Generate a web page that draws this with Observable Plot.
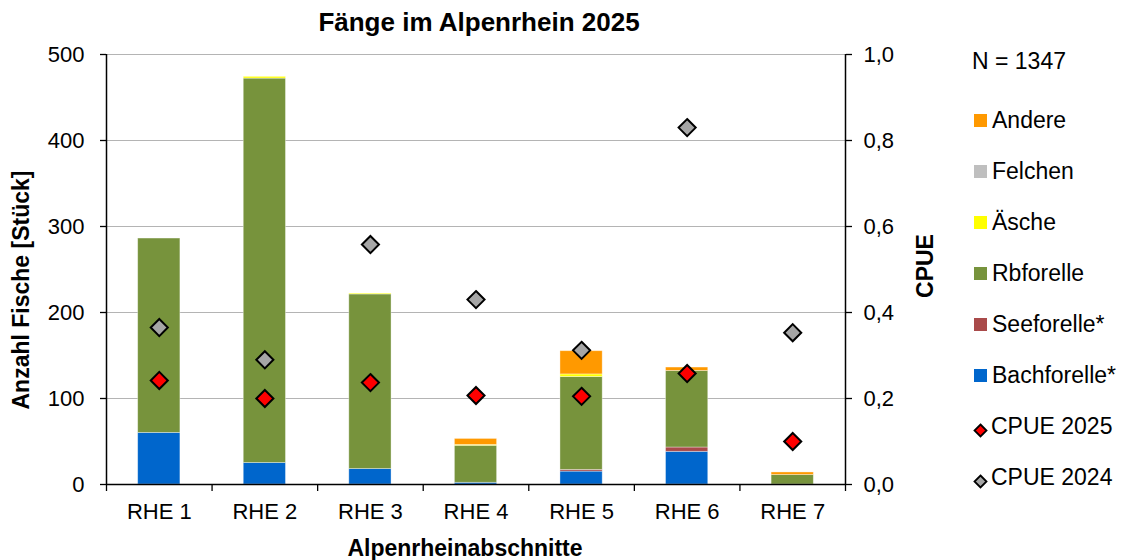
<!DOCTYPE html>
<html><head><meta charset="utf-8">
<script src="https://cdn.jsdelivr.net/npm/d3@7"></script>
<script src="https://cdn.jsdelivr.net/npm/@observablehq/plot@0.6"></script>
<style>
body{margin:0;background:#fff;font-family:"Liberation Sans",Arial,sans-serif;}
#wrap{position:relative;width:1122px;height:560px;overflow:hidden;background:#fff}
.ov{position:absolute;line-height:1;white-space:nowrap;color:#000}
.lg-row{position:absolute;left:974px;height:20px;display:flex;align-items:center;font-size:23px;line-height:1}
.lg-sw{width:13px;height:13px;margin-right:5px;flex:none}
</style></head><body>
<div id="wrap">
  <div class="ov" style="left:0;width:958px;text-align:center;top:9px;font-size:26px;font-weight:bold">Fänge im Alpenrhein 2025</div>
  <div id="chart" style="position:absolute;left:0;top:40px"></div>
  <div class="ov" style="left:465px;top:537px;transform:translateX(-50%);font-size:23px;font-weight:bold">Alpenrheinabschnitte</div>
  <div class="ov" style="left:21px;top:290px;transform:translate(-50%,-50%) rotate(-90deg);font-size:23px;font-weight:bold">Anzahl Fische [Stück]</div>
  <div class="ov" style="left:925px;top:266px;transform:translate(-50%,-50%) rotate(-90deg);font-size:23px;font-weight:bold">CPUE</div>
  <div class="ov" style="left:972px;top:50px;font-size:23px">N = 1347</div>
  <div id="legend"></div>
</div>
<script>
// ---- data ----
const categories = ["RHE 1", "RHE 2", "RHE 3", "RHE 4", "RHE 5", "RHE 6", "RHE 7"];
const species = ["Bachforelle*", "Seeforelle*", "Rbforelle", "Äsche", "Felchen", "Andere"];
const speciesColors = ["#0066CC", "#A94A4A", "#77933C", "#FFFF00", "#BFBFBF", "#FF9900"];
const bachforelle = [60, 25, 18, 2, 15, 38, 0];
const seeforelle  = [0, 0, 0, 0, 2, 5, 0];
const rbforelle   = [226, 447, 203, 43, 108, 89, 11];
const aesche      = [0, 2, 1, 1, 3, 0, 0];
const felchen     = [0, 0, 0, 0, 0, 0, 0];
const andere      = [0, 0, 0, 7, 27, 4, 3];
const cpue2025 = [0.242, 0.200, 0.237, 0.207, 0.205, 0.258, 0.100];
const cpue2024 = [0.365, 0.290, 0.558, 0.430, 0.312, 0.830, 0.353];
const yTicks = [0, 100, 200, 300, 400, 500];
const yMax = 500, cpueMax = 1.0;
const legendOrder = ["Andere", "Felchen", "Äsche", "Rbforelle", "Seeforelle*", "Bachforelle*", "CPUE 2025", "CPUE 2024"];

// ---- build tables ----
const seriesValues = [bachforelle, seeforelle, rbforelle, aesche, felchen, andere];
const barData = [];
species.forEach((s, k) => {
  categories.forEach((c, i) => barData.push({i: i + 1, cat: c, species: s, value: seriesValues[k][i]}));
});
const pts = categories.map((c, i) => ({i: i + 1, cat: c, c25: cpue2025[i], c24: cpue2024[i]}));
const toY = v => v / cpueMax * yMax;
const half = 0.2;
const boundaries = d3.range(0, categories.length + 1).map(k => k + 0.5);

const chart = Plot.plot({
  width: 1122,
  height: 520,
  marginTop: 14,
  marginBottom: 76,
  marginLeft: 106,
  marginRight: 277,
  style: {fontFamily: "'Liberation Sans', Arial, sans-serif", fontSize: "22px", color: "#000", background: "#fff", overflow: "visible"},
  x: {domain: [0.5, categories.length + 0.5]},
  y: {domain: [0, yMax]},
  color: {domain: species, range: speciesColors},
  marks: [
    Plot.ruleY(yTicks.filter(t => t > 0), {stroke: "#b4b4b4", strokeWidth: 1}),
    Plot.rectY(barData, Plot.stackY({
      x1: d => d.i - half, x2: d => d.i + half, y: "value", fill: "species",
      order: species, stroke: "#ffffff", strokeOpacity: 0.45, strokeWidth: 0.8
    })),
    Plot.ruleY([0], {stroke: "#000", strokeWidth: 1.5}),
    Plot.ruleX([0.5, categories.length + 0.5], {stroke: "#000", strokeWidth: 1.5}),
    Plot.axisY({anchor: "left", ticks: yTicks, tickSize: 6, tickPadding: 16, fontSize: 22, label: null, strokeWidth: 1.3}),
    Plot.axisY({anchor: "right", ticks: yTicks, tickSize: 6, tickPadding: 12, fontSize: 22, label: null, strokeWidth: 1.3,
      tickFormat: d => (d / yMax * cpueMax).toFixed(1).replace(".", ",")}),
    Plot.axisX({anchor: "bottom", ticks: boundaries, tickSize: 7, tickFormat: () => "", label: null, strokeWidth: 1.3}),
    Plot.axisX({anchor: "bottom", ticks: categories.map((c, i) => i + 1), tickSize: 0, tickPadding: 19, fontSize: 22,
      tickFormat: d => categories[d - 1], label: null}),
    Plot.dot(pts, {x: "i", y: d => toY(d.c24), symbol: "diamond2", r: 7.7, fill: "#A6A6A6", stroke: "#000", strokeWidth: 2}),
    Plot.dot(pts, {x: "i", y: d => toY(d.c25), symbol: "diamond2", r: 7.7, fill: "#FF0000", stroke: "#000", strokeWidth: 2})
  ]
});
document.getElementById("chart").appendChild(chart);

// ---- legend ----
const legend = document.getElementById("legend");
const colorOf = Object.fromEntries(species.map((s, k) => [s, speciesColors[k]]));
legendOrder.forEach((name, k) => {
  const row = document.createElement("div");
  row.className = "lg-row";
  row.style.top = (110 + k * 51.1) + "px";
  let sw;
  if (name.startsWith("CPUE")) {
    const fill = name === "CPUE 2025" ? "#FF0000" : "#A6A6A6";
    sw = document.createElement("span");
    sw.style.cssText = "width:15px;height:15px;margin-right:3px;flex:none;display:inline-block";
    sw.innerHTML = `<svg width="15" height="15" viewBox="0 0 15 15"><polygon points="7.5,1.5 13.5,7.5 7.5,13.5 1.5,7.5" fill="${fill}" stroke="#000" stroke-width="1.8"/></svg>`;
    row.style.left = "973px";
  } else {
    sw = document.createElement("span");
    sw.className = "lg-sw";
    sw.style.background = colorOf[name];
  }
  row.appendChild(sw);
  const t = document.createElement("span");
  t.textContent = name;
  row.appendChild(t);
  legend.appendChild(row);
});
</script>
</body></html>
